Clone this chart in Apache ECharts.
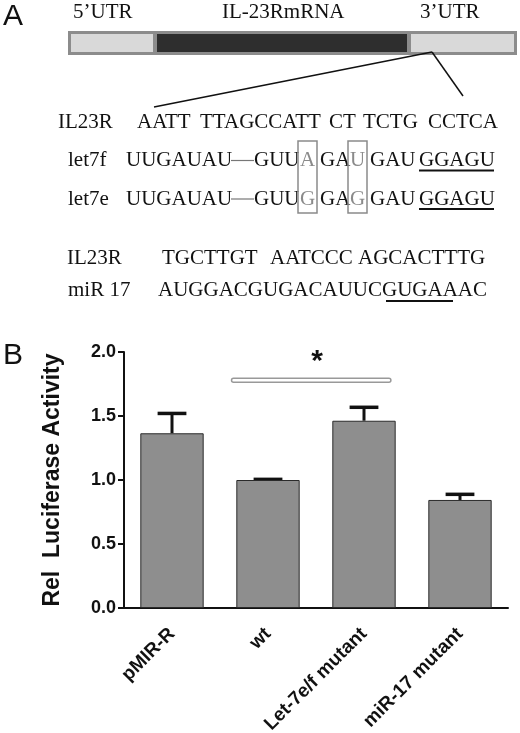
<!DOCTYPE html>
<html><head><meta charset="utf-8">
<script src="https://cdn.jsdelivr.net/npm/echarts@6/dist/echarts.min.js"></script>
<style>html,body{margin:0;padding:0;background:#fff}#c{width:520px;height:733px}</style>
</head><body><div id="c"></div>
<script>
// ---- data ----
const categories = ['pMIR-R', 'wt', 'Let-7e/f mutant', 'miR-17 mutant'];
const means = [1.365, 1.0, 1.463, 0.844];
const errUpper = [1.52, 1.005, 1.568, 0.888];
const yTicks = [0, 0.5, 1.0, 1.5, 2.0];
const sigPair = [1, 2];
const sigLevel = 1.78;

const serif = '"Liberation Serif","Times New Roman",serif';
const sans = '"Liberation Sans",Arial,Helvetica,sans-serif';

function txt(x, y, s, opt) {
  opt = opt || {};
  return {type:'text', x:x, y:y, style:{text:s, font:(opt.size||21)+'px '+serif, fill:opt.fill||'#111', verticalAlign:'middle', align:'left'}};
}
function ln(x1,y1,x2,y2,w,c){return {type:'line', shape:{x1:x1,y1:y1,x2:x2,y2:y2}, style:{stroke:c||'#111', lineWidth:w||1.5}};}
function box(x,y,w,h){return {type:'rect', shape:{x:x,y:y,width:w,height:h}, style:{fill:'none', stroke:'#8a8a8a', lineWidth:1.5}};}

const g = [];
// Panel labels
g.push({type:'text', x:3, y:17, style:{text:'A', font:'30px '+sans, fill:'#111', verticalAlign:'middle'}});
g.push({type:'text', x:3, y:356, style:{text:'B', font:'30px '+sans, fill:'#111', verticalAlign:'middle'}});
// gene diagram
g.push(txt(73, 12, '5\u2019UTR'));
g.push(txt(222, 12, 'IL-23RmRNA'));
g.push(txt(420, 12, '3\u2019UTR'));
g.push({type:'rect', shape:{x:68,y:31,width:449,height:24}, style:{fill:'#8c8c8c'}});
g.push({type:'rect', shape:{x:71,y:34,width:82,height:18}, style:{fill:'#d9d9d9'}});
g.push({type:'rect', shape:{x:157,y:34,width:250,height:18}, style:{fill:'#2e2e2e'}});
g.push({type:'rect', shape:{x:411,y:34,width:103,height:18}, style:{fill:'#d9d9d9'}});
g.push(ln(432,52,154,107,1.5));
g.push(ln(432,52,463,96,1.5));
// row 1
g.push(txt(58,122,'IL23R'));
[[137,'AATT'],[200,'TTAGCCATT'],[329,'CT'],[363,'TCTG'],[428,'CCTCA']].forEach(p=>g.push(txt(p[0],122,p[1])));
// rows 2-3
[[160.5,'let7f','A','U'],[199,'let7e','G','G']].forEach(r=>{
  const b=r[0];
  g.push(txt(68,b,r[1]));
  g.push(txt(126,b,'UUGAUAU'));
  g.push(ln(231,b,254,b,1.2,'#777'));
  g.push(txt(254,b,'GUU'));
  g.push(txt(300,b,r[2],{fill:'#8a8a8a'}));
  g.push(txt(320,b,'GA'));
  g.push(txt(350,b,r[3],{fill:'#8a8a8a'}));
  g.push(txt(370,b,'GAU'));
  g.push(txt(419,b,'GGAGU'));
  g.push(ln(419,b+10,494,b+10,2));
});
g.push(box(298,141,19,72));
g.push(box(348,141,19,72));
// rows 4-5
g.push(txt(67,258,'IL23R'));
[[162,'TGCTTGT'],[270,'AATCCC'],[358,'AGCACTTTG']].forEach(p=>g.push(txt(p[0],258,p[1])));
g.push(txt(68,290,'miR 17'));
g.push(txt(158,290,'AUGGACGUGACAUUCGUGAAAC'));
g.push(ln(386,301,453,301,2));

const chart = echarts.init(document.getElementById('c'));
chart.setOption({
  animation:false,
  backgroundColor:'#fff',
  grid:{left:124, right:12, top:352, bottom:125, containLabel:false, outerBoundsMode:'none'},
  xAxis:{type:'category', data:categories, boundaryGap:true,
    axisLine:{lineStyle:{color:'#111', width:2}},
    axisTick:{alignWithLabel:true, length:7, lineStyle:{color:'#111', width:2}},
    axisLabel:{rotate:45, margin:23, color:'#111', fontFamily:sans, fontWeight:'bold', fontSize:19, interval:0}},
  yAxis:{type:'value', min:yTicks[0], max:yTicks[yTicks.length-1], interval:0.5,
    name:'Rel  Luciferase Activity', nameLocation:'middle', nameGap:60,
    nameTextStyle:{fontFamily:sans, fontWeight:'bold', fontSize:23, color:'#111'},
    axisLine:{show:true, lineStyle:{color:'#111', width:2}},
    axisTick:{show:true, length:6, lineStyle:{color:'#111', width:2}},
    splitLine:{show:false},
    axisLabel:{formatter:v=>v.toFixed(1), color:'#111', fontFamily:sans, fontWeight:'bold', fontSize:18, margin:8}},
  series:[
    {type:'custom', z:1, data:categories.map((c,i)=>[i, means[i], errUpper[i]]),
      renderItem:function(params, api){
        const i=api.value(0), m=api.value(1), t=api.value(2);
        const p1=api.coord([i,m]), p2=api.coord([i,t]);
        const hw=api.size([1,0])[0]*0.15;
        return {type:'group', children:[
          {type:'line', shape:{x1:p1[0],y1:p1[1],x2:p2[0],y2:p2[1]}, style:{stroke:'#111', lineWidth:3}},
          {type:'line', shape:{x1:p2[0]-hw,y1:p2[1],x2:p2[0]+hw,y2:p2[1]}, style:{stroke:'#111', lineWidth:3.5}}
        ]};
      }},
    {type:'bar', z:2, data:means, barWidth:'66%',
      itemStyle:{color:'#8e8e8e', borderColor:'#2a2a2a', borderWidth:1}},
    {type:'custom', z:3, data:[[sigPair[0], sigPair[1], sigLevel]],
      renderItem:function(params, api){
        const a=api.coord([api.value(0), api.value(2)]), b=api.coord([api.value(1), api.value(2)]);
        const bw=api.size([1,0])[0];
        const x1=a[0]-bw*0.38, x2=b[0]+bw*0.28;
        return {type:'group', children:[
          {type:'rect', shape:{x:x1,y:a[1]-2,width:x2-x1,height:4,r:2}, style:{fill:'#fff', stroke:'#999', lineWidth:1.5}},
          {type:'text', x:(x1+x2)/2+6, y:a[1]-18, style:{text:'*', font:'bold 30px '+sans, fill:'#111', align:'center', verticalAlign:'middle'}}
        ]};
      }}
  ],
  graphic:g
});
</script></body></html>
